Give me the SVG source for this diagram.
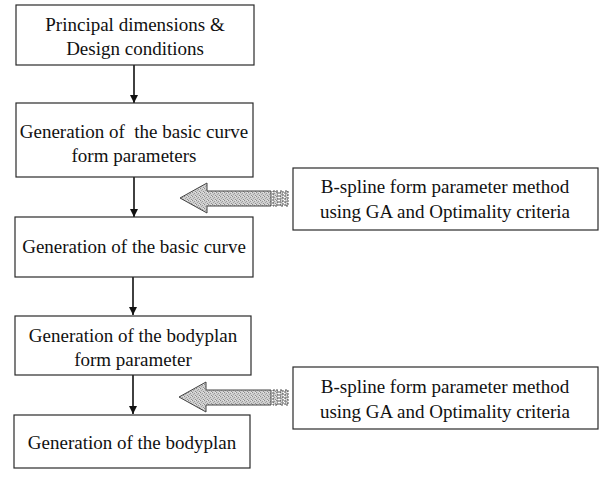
<svg xmlns="http://www.w3.org/2000/svg" width="602" height="477" viewBox="0 0 602 477">
<style>
.box{fill:#fff;stroke:#2a2a2a;stroke-width:1.2}
.t{font-family:"Liberation Serif","Times New Roman",serif;font-size:19px;fill:#111;text-anchor:middle}
.conn{stroke:#111;stroke-width:1.6;fill:none}
.big{fill:url(#stip);stroke:#444;stroke-width:1}
.hatch{fill:url(#stip);stroke:#555;stroke-width:1;stroke-dasharray:2 1}
</style>
<defs>
<marker id="ah" viewBox="0 0 10 10" refX="10" refY="5" markerWidth="8" markerHeight="8" markerUnits="userSpaceOnUse" orient="auto">
<path d="M0,0 L10,5 L0,10 z" fill="#111"/>
</marker>
<pattern id="stip" width="4" height="4" patternUnits="userSpaceOnUse">
<rect width="4" height="4" fill="#cfcfcf"/>
<rect x="0" y="0" width="1" height="1" fill="#8a8a8a"/>
<rect x="2" y="1" width="1" height="1" fill="#9a9a9a"/>
<rect x="1" y="2" width="1" height="1" fill="#a5a5a5"/>
<rect x="3" y="3" width="1" height="1" fill="#8f8f8f"/>
<rect x="3" y="0" width="1" height="1" fill="#e8e8e8"/>
</pattern>
</defs>

<g id="connectors">
<line class="conn" x1="134" y1="65" x2="134" y2="103" marker-end="url(#ah)"/>
<line class="conn" x1="134" y1="177" x2="134" y2="217" marker-end="url(#ah)"/>
<line class="conn" x1="133" y1="277" x2="133" y2="315" marker-end="url(#ah)"/>
<line class="conn" x1="133" y1="375" x2="133" y2="414" marker-end="url(#ah)"/>
<g id="bigArrow1">
<path class="big" d="M180,198 L207,183 L207,191 L271,191 L271,206 L207,206 L207,213 Z"/>
<rect class="hatch" x="273" y="191" width="5" height="15"/>
<rect class="hatch" x="280" y="191" width="3" height="15"/>
<rect class="hatch" x="285" y="191" width="3" height="15"/>
</g>
<g id="bigArrow2">
<path class="big" d="M179,397 L206,382 L206,390 L271,390 L271,405 L206,405 L206,412 Z"/>
<rect class="hatch" x="273" y="390" width="5" height="15"/>
<rect class="hatch" x="280" y="390" width="3" height="15"/>
<rect class="hatch" x="285" y="390" width="3" height="15"/>
</g>
</g>

<g id="n1">
<rect class="box" x="16" y="5" width="238" height="60"/>
<text class="t" x="135" y="31">Principal dimensions &amp;</text>
<text class="t" x="135" y="55">Design conditions</text>
</g>
<g id="n2">
<rect class="box" x="16" y="103" width="237" height="74"/>
<text class="t" x="134" y="138" xml:space="preserve">Generation of  the basic curve</text>
<text class="t" x="134" y="162">form parameters</text>
</g>
<g id="n3">
<rect class="box" x="15" y="217" width="238" height="60"/>
<text class="t" x="134" y="253">Generation of the basic curve</text>
</g>
<g id="n4">
<rect class="box" x="15" y="316" width="236" height="59"/>
<text class="t" x="133" y="342">Generation of the bodyplan</text>
<text class="t" x="133" y="366">form parameter</text>
</g>
<g id="n5">
<rect class="box" x="14" y="415" width="236" height="53"/>
<text class="t" x="132" y="449">Generation of the bodyplan</text>
</g>
<g id="s1">
<rect class="box" x="293" y="168" width="305" height="62"/>
<text class="t" x="445" y="193">B-spline form parameter method</text>
<text class="t" x="445" y="218">using GA and Optimality criteria</text>
</g>
<g id="s2">
<rect class="box" x="293" y="367" width="305" height="62"/>
<text class="t" x="445" y="393">B-spline form parameter method</text>
<text class="t" x="445" y="418">using GA and Optimality criteria</text>
</g>
</svg>
